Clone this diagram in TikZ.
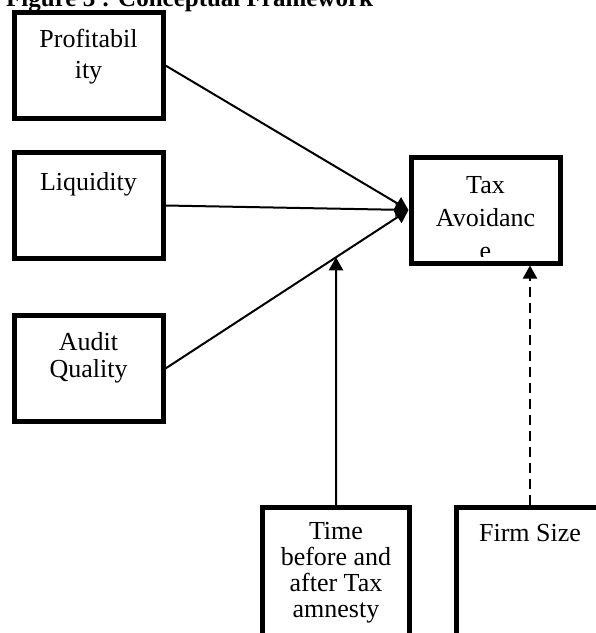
\documentclass[tikz,border=0pt]{standalone}
\usepackage{fontspec}
\setmainfont{Liberation Serif}
\usetikzlibrary{arrows.meta,positioning,intersections,calc}

\begin{document}
\begin{tikzpicture}[x=1pt, y=1pt,
  varbox/.style={draw, line width=5pt, minimum width=149pt, minimum height=106pt, inner sep=0pt},
  lbl/.style={inner sep=0pt, anchor=north, align=center, font=\fontsize{26}{28}\selectfont},
  link/.style={line width=2pt, -{Triangle[length=13pt, width=14pt]}}
]
\clip (0,0) rectangle (596,-633);

% Title (cut off at the top edge)
\node[anchor=base west, inner sep=0pt, font=\bfseries\fontsize{25}{25}\selectfont] (title) at (6,-6) {Figure 3 : Conceptual Framework};

% Independent variables
\node[varbox] (prof) at (88.5,-65.5) {};
\node[lbl, font=\fontsize{26}{31}\selectfont] (proftxt) at ([yshift=-19pt]prof.north) {Profitabil\\ity};

\node[varbox] (liq) at (88.5,-205.5) {};
\node[lbl] (liqtxt) at ([yshift=-22pt]liq.north) {Liquidity};

\node[varbox] (aud) at (88.5,-368.5) {};
\node[lbl, font=\fontsize{26}{27}\selectfont] (audtxt) at ([yshift=-19pt]aud.north) {Audit\\Quality};

% Dependent variable
\node[varbox] (tax) at (485.5,-210) {};
\begin{scope}
  \clip (411,-157) rectangle (560,-256);
  \node[lbl, font=\fontsize{26}{33}\selectfont] (taxtxt) at ([yshift=-22pt]tax.north) {Tax\\Avoidanc\\e};
\end{scope}

% Moderating and control variables (run past the bottom edge)
\node[varbox, anchor=north, minimum width=147pt, minimum height=150pt] (time) at (336,-505) {};
\begin{scope}
  \clip (263,-505) rectangle (409,-623);
  \node[lbl, font=\fontsize{26}{26}\selectfont] (timetxt) at ([yshift=-17pt]time.north) {Time\\before and\\after Tax\\amnesty};
\end{scope}

\node[varbox, anchor=north, minimum width=147pt, minimum height=150pt] (firm) at (530,-505) {};
\node[lbl] (firmtxt) at ([yshift=-19pt]firm.north) {Firm Size};

% Direct effects
\draw[link] (prof.east) -- (tax.west);
\draw[link] (liq.east) -- (tax.west);
\draw[link, name path=audline] (aud.east) -- (tax.west);

% Moderation onto the audit path
\path[name path=timeup] (time.north) -- ++(0,300);
\path[name intersections={of=audline and timeup, by=meet}];
\draw[link] (time.north) -- (meet);

% Control variable
\draw[link, dash pattern=on 10pt off 6pt] (firm.north) -- (firm.north |- tax.south);

\end{tikzpicture}
\end{document}
